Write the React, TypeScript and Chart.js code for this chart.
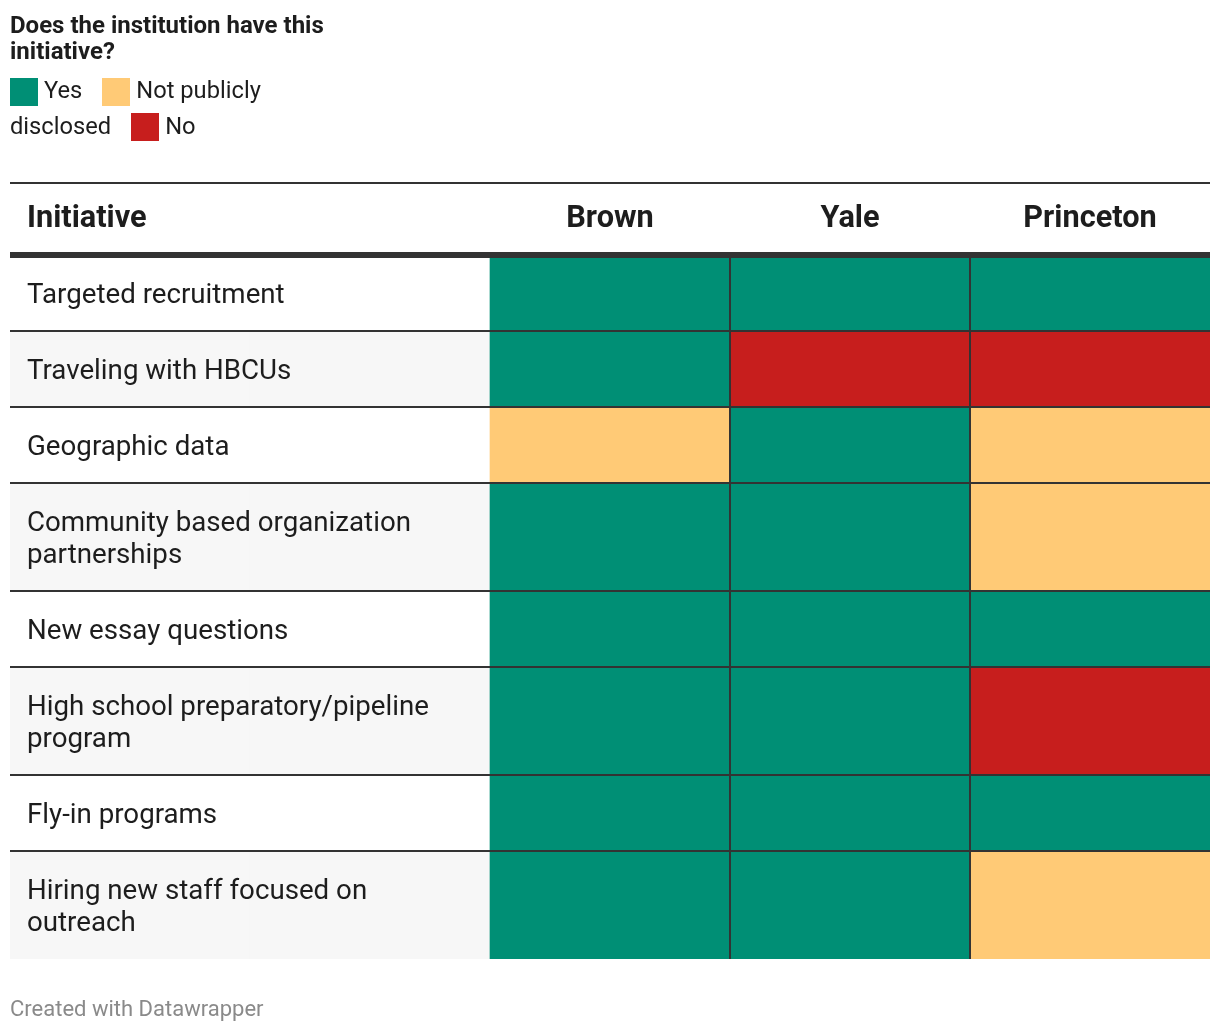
import React, { useEffect, useRef } from "react";
import { Chart, registerables } from "chart.js";

Chart.register(...registerables);

// ---- data ----
const institutions = ["Brown", "Yale", "Princeton"];
const initiatives = [
  "Targeted recruitment",
  "Traveling with HBCUs",
  "Geographic data",
  "Community based organization\npartnerships",
  "New essay questions",
  "High school preparatory/pipeline\nprogram",
  "Fly-in programs",
  "Hiring new staff focused on\noutreach",
];
const statusKeys = ["Yes", "Not publicly disclosed", "No"];
const brownStatus = ["Yes", "Yes", "Not publicly disclosed", "Yes", "Yes", "Yes", "Yes", "Yes"];
const yaleStatus = ["Yes", "No", "Yes", "Yes", "Yes", "Yes", "Yes", "Yes"];
const princetonStatus = ["Yes", "No", "Not publicly disclosed", "Not publicly disclosed", "Yes", "No", "Yes", "Not publicly disclosed"];

// ---- styles ----
const statusColors: Record<string, string> = {
  Yes: "#008f75",
  "Not publicly disclosed": "#ffca76",
  No: "#c71e1d",
};
const FONT = "Roboto, 'Noto Sans', sans-serif";
const TEXT = "#1d1d1d";
const ROW_FONT = 27.7;
const HEAD_FONT = 30.7;

export default function App() {
  const canvasRef = useRef<HTMLCanvasElement | null>(null);

  useEffect(() => {
    const canvas = canvasRef.current;
    if (!canvas) return;

    const lines = initiatives.map((s) => s.split("\n"));
    const heights = lines.map((l) => 44 + 32 * l.length);
    const bounds: number[] = [0];
    heights.forEach((h) => bounds.push(bounds[bounds.length - 1] + h));
    const total = bounds[bounds.length - 1];
    const columns = [brownStatus, yaleStatus, princetonStatus];
    const xLabels = ["", "", ...institutions];

    const datasets = initiatives.map((name, r) => {
      const rowBg = r % 2 === 0 ? "#ffffff" : "#f7f7f7";
      return {
        label: name.replace("\n", " "),
        data: xLabels.map(() => [bounds[r], bounds[r + 1]]),
        backgroundColor: [rowBg, rowBg, ...columns.map((col) => statusColors[col[r]])],
        borderWidth: 0,
        barPercentage: 1,
        categoryPercentage: 1,
        grouped: false,
      };
    });

    const headerPadding = 17;
    const labelPlugin = {
      id: "rowLabels",
      afterDatasetsDraw(chart: any) {
        const { ctx, scales } = chart;
        const x = scales.x;
        const y = scales.y;
        const step = x.getPixelForValue(1) - x.getPixelForValue(0);
        const left = x.getPixelForValue(0) - step / 2 + 17;
        ctx.save();
        ctx.fillStyle = TEXT;
        ctx.textAlign = "left";
        ctx.textBaseline = "middle";
        ctx.font = `400 ${ROW_FONT}px ${FONT}`;
        lines.forEach((ls, r) => {
          const yc = y.getPixelForValue((bounds[r] + bounds[r + 1]) / 2) + 3;
          ls.forEach((t, i) => {
            ctx.fillText(t, left, yc + (i - (ls.length - 1) / 2) * 32);
          });
        });
        ctx.font = `700 ${HEAD_FONT}px ${FONT}`;
        ctx.fillText("Initiative", left, x.bottom - headerPadding - (HEAD_FONT * 1.2) / 2);
        ctx.restore();
      },
    };

    const chart = new Chart(canvas, {
      type: "bar",
      data: { labels: xLabels, datasets: datasets as any },
      plugins: [labelPlugin],
      options: {
        responsive: false,
        animation: false,
        devicePixelRatio: 1,
        layout: { padding: { left: 10, right: 10, top: 183, bottom: 75 } },
        plugins: {
          legend: { display: false },
          tooltip: { enabled: false },
        },
        scales: {
          x: {
            type: "category",
            position: "top",
            offset: true,
            grid: {
              offset: true,
              drawTicks: false,
              z: 1,
              lineWidth: 2,
              color: (ctx: any) => (ctx.index === 3 || ctx.index === 4 ? "#333333" : "rgba(0,0,0,0)"),
            },
            border: { display: false },
            ticks: {
              font: { family: FONT, size: HEAD_FONT, weight: "bold" },
              color: TEXT,
              padding: headerPadding,
              maxRotation: 0,
              autoSkip: false,
            },
            afterFit: (s: any) => {
              s.height = 72;
            },
          },
          y: {
            type: "linear",
            reverse: true,
            min: 0,
            max: total,
            afterBuildTicks: (s: any) => {
              s.ticks = bounds.map((v) => ({ value: v }));
            },
            ticks: { display: false },
            grid: {
              z: 1,
              drawTicks: false,
              color: (ctx: any) => (ctx.index === bounds.length - 1 ? "rgba(0,0,0,0)" : "#333333"),
              lineWidth: (ctx: any) => (ctx.index === 0 ? 6 : 2),
            },
            border: { display: false },
            afterFit: (s: any) => {
              s.width = 0;
            },
          },
        },
      } as any,
    });
    return () => chart.destroy();
  }, []);

  return (
    <div style={{ position: "absolute", left: 0, top: 0, width: 1220, height: 1034, background: "#fff", overflow: "hidden" }}>
      <canvas ref={canvasRef} width={1220} height={1034} style={{ position: "absolute", left: 0, top: 0, width: 1220, height: 1034 }} />
      <div style={{ position: "absolute", left: 10, top: 12, width: 330, fontFamily: FONT, fontWeight: 700, fontSize: 24, lineHeight: "26px", color: TEXT }}>
        Does the institution have this initiative?
      </div>
      <div style={{ position: "absolute", left: 10, top: 73, width: 330, fontFamily: FONT, fontSize: 23.7, lineHeight: "35.5px", color: TEXT }}>
        {statusKeys.map((k, i) => (
          <span key={k}>
            <span style={{ display: "inline-block", width: 28, height: 28, background: statusColors[k], verticalAlign: "middle", marginRight: 6 }} />
            {k}
            {i < statusKeys.length - 1 && <span style={{ display: "inline-block", width: 20 }} />}
          </span>
        ))}
      </div>
      <div style={{ position: "absolute", left: 10, top: 182, width: 1200, height: 2, background: "#333" }} />
      <div style={{ position: "absolute", left: 10, top: 994.5, fontFamily: FONT, fontSize: 22, lineHeight: "28px", color: "#8a8a8a" }}>
        Created with Datawrapper
      </div>
    </div>
  );
}
